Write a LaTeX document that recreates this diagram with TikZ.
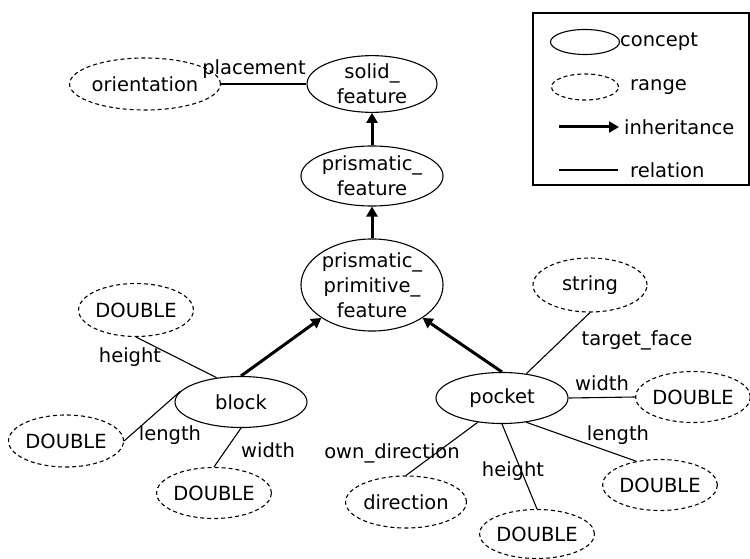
\documentclass[tikz,border=0pt]{standalone}
\usepackage{fontspec}
\setmainfont{DejaVu Sans}
\usetikzlibrary{shapes.geometric,arrows.meta}
\tikzset{
  every node/.style={font=\fontsize{19.5}{25}\selectfont, inner sep=0pt, align=center},
  concept/.style={draw, ellipse, line width=1.1pt},
  rangebox/.style={draw, ellipse, line width=1.1pt, dash pattern=on 4pt off 3pt},
  inherit/.style={line width=3pt, -{Triangle[length=10pt,width=11pt]}},
  relation/.style={line width=1.1pt},
  lbl/.style={}
}
\begin{document}
\begin{tikzpicture}[x=1pt,y=-1pt]
\useasboundingbox (0,0) rectangle (750,559);
% concepts
\node[concept, minimum width=130pt, minimum height=52pt] (sf) at (372,84) {solid\_\\feature};
\node[concept, minimum width=130pt, minimum height=60pt] (pf) at (372,176) {prismatic\_\\feature};
\node[concept, minimum width=131pt, minimum height=86pt] (ppf) at (372,285) {prismatic\_\\primitive\_\\feature};
\node[concept, minimum width=132pt, minimum height=51pt] (block) at (241,402) {block};
\node[concept, minimum width=132pt, minimum height=51pt] (pocket) at (502,398) {pocket};
% ranges
\node[rangebox, minimum width=114pt, minimum height=52pt] (ori) at (145,84) {orientation};
\node[rangebox, minimum width=114pt, minimum height=53pt] (h1) at (136,310) {DOUBLE};
\node[rangebox, minimum width=115pt, minimum height=52pt] (l1) at (66,441) {DOUBLE};
\node[rangebox, minimum width=115pt, minimum height=51pt] (w1) at (214,493) {DOUBLE};
\node[rangebox, minimum width=114pt, minimum height=54pt] (str) at (590,285) {string};
\node[rangebox, minimum width=112pt, minimum height=51pt] (w2) at (693,397) {DOUBLE};
\node[rangebox, minimum width=114pt, minimum height=51pt] (l2) at (660,485) {DOUBLE};
\node[rangebox, minimum width=115pt, minimum height=49pt] (h2) at (537,534) {DOUBLE};
\node[rangebox, minimum width=114pt, minimum height=52pt] (dir) at (406,502) {direction};
% inheritance
\draw[inherit] (pf.north) -- (sf.south);
\draw[inherit] (ppf.north) -- (pf.south);
\draw[inherit] (block.north) -- (ppf.south west);
\draw[inherit] (pocket.north) -- (ppf.south east);
% relations
\draw[relation] (ori.east) -- (sf.west);
\draw[relation] (h1.south) -- (block.135);
\draw[relation] (l1.east) -- (block.170);
\draw[relation] (block.south) -- (w1.north);
\draw[relation] (str.south) -- (pocket.45);
\draw[relation] (pocket.east) -- (w2.west);
\draw[relation] (pocket.-45) -- (l2.135);
\draw[relation] (pocket.south) -- (h2.north);
\draw[relation] (pocket.-135) -- (dir.north);
% relation labels
\node[lbl] (tplacement) at (254,69) {placement};
\node[lbl] (th1) at (130,357) {height};
\node[lbl] (tl1) at (170,435) {length};
\node[lbl] (tw1) at (268,450) {width};
\node[lbl] (ttf) at (637,340) {target\_face};
\node[lbl] (tw2) at (602,383) {width};
\node[lbl] (tl2) at (618,435) {length};
\node[lbl] (tod) at (392,453) {own\_direction};
\node[lbl] (th2) at (513,471) {height};
% legend
\node[draw, line width=1.1pt, minimum width=216pt, minimum height=172pt] (legend) at (641,99) {};
\node[concept, minimum width=69pt, minimum height=25pt] (lc) at (585,42) {};
\node[anchor=west] (lct) at (620,42) {concept};
\node[rangebox, minimum width=67pt, minimum height=26pt] (lr) at (585,87) {};
\node[anchor=west] (lrt) at (630,87) {range};
\coordinate (lia) at (559,127);
\coordinate (lib) at (619,127);
\node[anchor=west] (lit) at (624,127) {inheritance};
\draw[inherit] (lia) -- (lib);
\coordinate (lra) at (559,170);
\coordinate (lrb) at (618,170);
\node[anchor=west] (lrel) at (630,170) {relation};
\draw[relation] (lra) -- (lrb);
\end{tikzpicture}
\end{document}
